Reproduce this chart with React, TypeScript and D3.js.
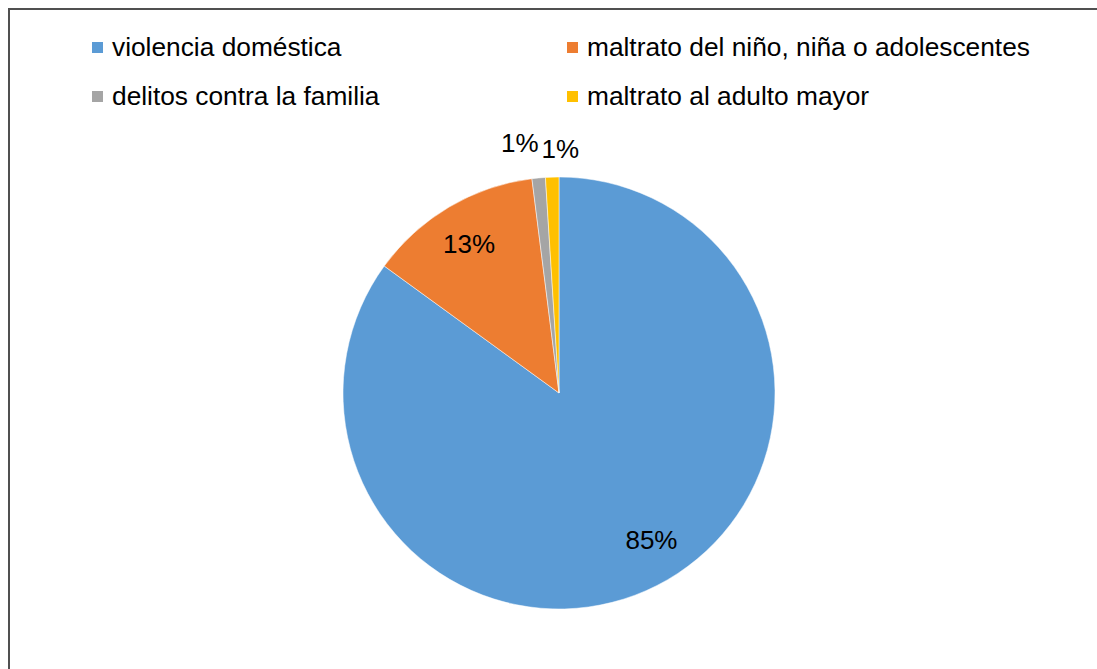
import React from 'react';
import * as d3 from 'd3';

const categories = [
  'violencia doméstica',
  'maltrato del niño, niña o adolescentes',
  'delitos contra la familia',
  'maltrato al adulto mayor',
];
const values = [85, 13, 1, 1];
const labels = ['85%', '13%', '1%', '1%'];
const colors = ['#5B9BD5', '#ED7D31', '#A5A5A5', '#FFC000'];

const W = 1097;
const H = 669;
const cx = 559;
const cy = 393;
const radius = 216;
const font = '"Liberation Sans", Arial, sans-serif';

export default function App() {
  const pie = d3
    .pie<number>()
    .value(d => d)
    .sort(null);
  const arcs = pie(values);

  const arc = d3.arc<d3.PieArcDatum<number>>().innerRadius(0).outerRadius(radius);
  const inLabel = d3
    .arc<d3.PieArcDatum<number>>()
    .innerRadius(radius * 0.8)
    .outerRadius(radius * 0.8);
  const outLabel = d3
    .arc<d3.PieArcDatum<number>>()
    .innerRadius(radius * 1.14)
    .outerRadius(radius * 1.14);
  // label fine-tuning, like Excel's best-fit placement
  const nudge = [
    [14, -7],
    [-2, 0],
    [-16, -5],
    [9, 2],
  ];

  const legendX = [92, 567];
  const legendY = [47, 96];

  return (
    <svg
      width={W}
      height={H}
      style={{ position: 'absolute', left: 0, top: 0, background: '#fff' }}
    >
      <rect x={9} y={9} width={W + 10} height={H + 10} fill="#fff" stroke="#505050" strokeWidth={2} />

      {categories.map((c, i) => {
        const x = legendX[i % 2];
        const y = legendY[Math.floor(i / 2)];
        return (
          <g key={c}>
            <rect x={x} y={y - 5} width={11} height={11} fill={colors[i]} />
            <text x={x + 20} y={y} dy="0.35em" fontFamily={font} fontSize={26.3} fill="#000">
              {c}
            </text>
          </g>
        );
      })}

      <g transform={`translate(${cx},${cy})`}>
        {arcs.map((a, i) => (
          <path key={i} d={arc(a) || ''} fill={colors[i]} stroke="#fff" strokeWidth={0.5} />
        ))}
        {arcs.map((a, i) => {
          const small = values[i] < 5;
          const [lx, ly] = small ? outLabel.centroid(a) : inLabel.centroid(a);
          return (
            <text
              key={'l' + i}
              x={lx + nudge[i][0]}
              y={ly + nudge[i][1]}
              dy="0.35em"
              textAnchor="middle"
              fontFamily={font}
              fontSize={26}
              fill="#000"
            >
              {labels[i]}
            </text>
          );
        })}
      </g>
    </svg>
  );
}
